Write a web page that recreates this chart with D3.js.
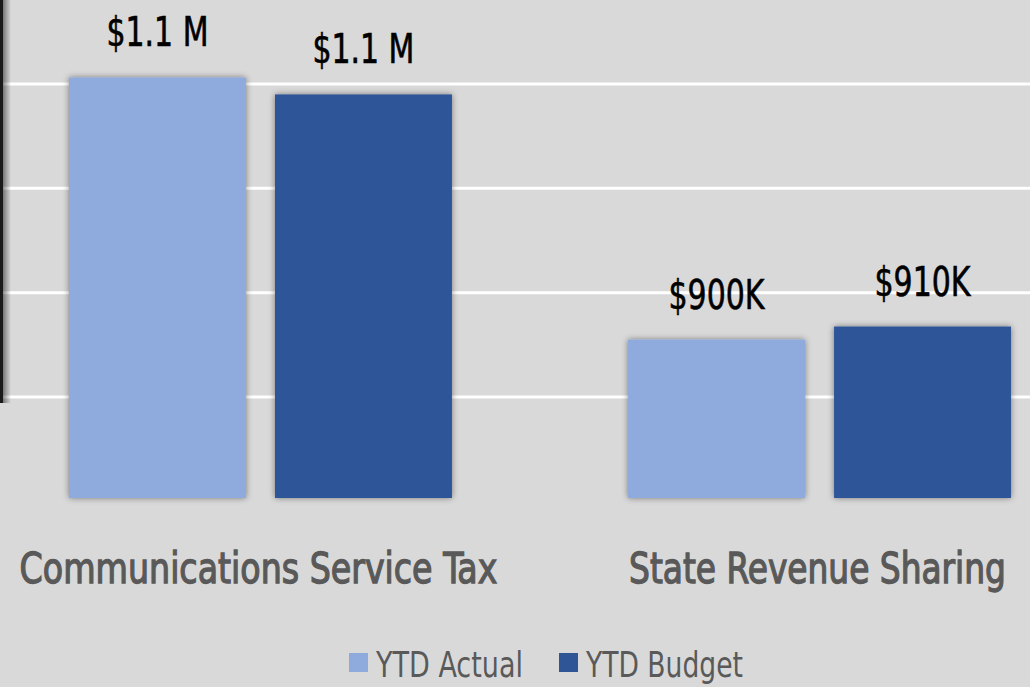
<!DOCTYPE html>
<html>
<head>
<meta charset="utf-8">
<script src="https://cdn.jsdelivr.net/npm/d3@7"></script>
<style>
  html, body { margin: 0; padding: 0; background: #d9d9d9; overflow: hidden; }
  svg { display: block; }
  text { font-family: "Liberation Sans Narrow", "DejaVu Sans Condensed", "Noto Sans", sans-serif; }
</style>
</head>
<body>
<svg id="chart"></svg>
<script>
const width = 1030;
const height = 687;

// data
const categories = ["Communications Service Tax", "State Revenue Sharing"];
const series = ["YTD Actual", "YTD Budget"];
const actualValues = [1105000, 904000];
const budgetValues = [1092000, 914000];
const valueLabels = [["$1.1 M", "$1.1 M"], ["$900K", "$910K"]];
const gridValues = [860000, 940000, 1020000, 1100000];

const colors = ["#8faadc", "#2f5597"];

const svg = d3.select("#chart")
  .attr("width", width)
  .attr("height", height);

svg.append("rect")
  .attr("width", width)
  .attr("height", height)
  .attr("fill", "#d9d9d9");

// soft shadow around bars
const defs = svg.append("defs");
defs.append("filter")
  .attr("id", "shadow")
  .attr("x", "-10%").attr("y", "-10%")
  .attr("width", "120%").attr("height", "120%")
  .append("feDropShadow")
  .attr("dx", 0).attr("dy", 0)
  .attr("stdDeviation", 3)
  .attr("flood-color", "#000")
  .attr("flood-opacity", 0.45);

const lg = defs.append("linearGradient").attr("id", "edge");
lg.append("stop").attr("offset", "0%").attr("stop-color", "#000").attr("stop-opacity", 0.45);
lg.append("stop").attr("offset", "100%").attr("stop-color", "#000").attr("stop-opacity", 0);

// scales
const y = d3.scaleLinear()
  .domain([782500, 1100000])
  .range([498, 84]);

const x0 = d3.scaleBand()
  .domain(categories)
  .range([-98.7, 1178.7])
  .paddingInner(0.315)
  .paddingOuter(0.3);

const x1 = d3.scaleBand()
  .domain(series)
  .range([0, x0.bandwidth()])
  .paddingInner(0.141);

const color = d3.scaleOrdinal().domain(series).range(colors);

// squeeze a text horizontally to a given width, keeping it centred/anchored at cx
function fitWidth(sel, widthFn) {
  sel.each(function(d, i) {
    const t = d3.select(this);
    const w = this.getComputedTextLength();
    const target = widthFn(d, i);
    const cx = +t.attr("x");
    const cy = +t.attr("y");
    t.attr("transform", "translate(" + cx + "," + cy + ") scale(" + (target / w) + ",1)")
      .attr("x", 0).attr("y", 0);
  });
}

// gridlines
svg.append("g")
  .selectAll("line")
  .data(gridValues)
  .join("line")
  .attr("x1", 0)
  .attr("x2", width)
  .attr("y1", d => y(d))
  .attr("y2", d => y(d))
  .attr("stroke", "#ffffff")
  .attr("stroke-width", 3);

// dark edge on the left (cropped slide border)
svg.append("rect")
  .attr("x", 3).attr("y", 0)
  .attr("width", 8).attr("height", 403)
  .attr("fill", "url(#edge)");
svg.append("rect")
  .attr("x", 0).attr("y", 0)
  .attr("width", 3).attr("height", 403)
  .attr("fill", "#1a1a1a");

// bars
const rows = categories.map((c, i) => ({
  category: c,
  values: [
    {key: series[0], value: actualValues[i], label: valueLabels[i][0]},
    {key: series[1], value: budgetValues[i], label: valueLabels[i][1]}
  ]
}));

const groups = svg.append("g")
  .selectAll("g")
  .data(rows)
  .join("g")
  .attr("transform", d => "translate(" + x0(d.category) + ",0)");

groups.selectAll("rect")
  .data(d => d.values)
  .join("rect")
  .attr("x", d => x1(d.key))
  .attr("y", d => y(d.value))
  .attr("width", x1.bandwidth())
  .attr("height", d => y.range()[0] - y(d.value))
  .attr("fill", d => color(d.key))
  .attr("filter", "url(#shadow)");

// value labels
groups.selectAll("text.val")
  .data(d => d.values)
  .join("text")
  .attr("class", "val")
  .attr("x", d => x1(d.key) + x1.bandwidth() / 2)
  .attr("y", d => y(d.value) - 31)
  .attr("text-anchor", "middle")
  .attr("font-size", 40)
  .attr("fill", "#000")
  .attr("stroke", "#000")
  .attr("stroke-width", 0.6)
  .text(d => d.label)
  .call(fitWidth, d => d.label.length > 5 ? 102 : 96);

// category labels
const catWidths = [478, 377];
svg.append("g")
  .selectAll("text")
  .data(categories)
  .join("text")
  .attr("x", d => x0(d) + x0.bandwidth() / 2 - 2)
  .attr("y", 583)
  .attr("text-anchor", "middle")
  .attr("font-size", 43)
  .attr("fill", "#595959")
  .attr("stroke", "#595959")
  .attr("stroke-width", 1.3)
  .text(d => d)
  .call(fitWidth, (d, i) => catWidths[i]);

// legend
const legendX = [349, 559];
const legendTextW = [147, 157];
const legend = svg.append("g")
  .selectAll("g")
  .data(series)
  .join("g")
  .attr("transform", (d, i) => "translate(" + legendX[i] + ",653)");

legend.append("rect")
  .attr("width", 19)
  .attr("height", 19)
  .attr("fill", d => color(d));

legend.append("text")
  .attr("x", 27)
  .attr("y", 24)
  .attr("font-size", 35)
  .attr("fill", "#595959")
  .text(d => d)
  .call(fitWidth, (d, i) => legendTextW[i]);
</script>
</body>
</html>
